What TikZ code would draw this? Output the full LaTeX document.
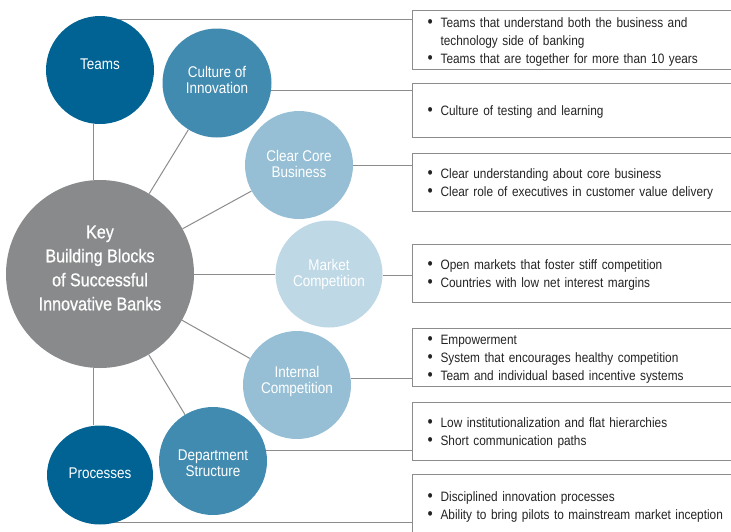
\documentclass[tikz,border=0pt]{standalone}
\usepackage{fontspec}
\usepackage{graphicx}
\setmainfont{Liberation Sans}[FakeStretch=0.87]
\newfontfamily\medfont{Liberation Sans}[FakeStretch=0.87,FakeBold=0.8]
\usetikzlibrary{shapes.geometric,backgrounds}
\definecolor{cDark}{RGB}{0,99,148}
\definecolor{cMid}{RGB}{66,139,176}
\definecolor{cLight}{RGB}{150,191,213}
\definecolor{cPale}{RGB}{190,216,230}
\definecolor{cGray}{RGB}{137,138,140}
\definecolor{lineC}{RGB}{140,140,140}
\definecolor{boxC}{RGB}{140,140,140}
\definecolor{textC}{RGB}{35,35,35}
\newcommand\bitem[1]{\makebox[13pt][l]{\raisebox{-0.3pt}{\scalebox{1.25}{\textbullet}}}#1}
\newcommand\bcont[1]{\hspace*{13pt}#1}
\newcommand\firstline{\rule{0pt}{13pt}}
\newcommand\boxfont{\fontsize{13.6}{18}\selectfont\hyphenpenalty=10000\relax}
\begin{document}
\begin{tikzpicture}[x=1pt,y=-1pt,
  bub/.style={circle, inner sep=0pt},
  bubtxt/.style={text=white, align=center, font=\fontsize{15.5}{16}\selectfont, inner sep=0pt},
  conn/.style={draw=lineC, line width=1pt},
  infobox/.style={draw=boxC, line width=1.2pt, rectangle, anchor=north west, inner xsep=15pt, inner ysep=0pt, align=left, text=textC, font=\boxfont, text width=320pt, minimum height=58pt}
]
\useasboundingbox (0,0) rectangle (731,531);
\clip (0,0) rectangle (731,531);
% boxes
\node[infobox, minimum height=59pt] (box1) at (412,10) {\firstline\bitem{Teams that understand both the business and}\\ \bcont{technology side of banking}\\ \bitem{Teams that are together for more than 10 years}};
\node[infobox, minimum height=54pt] (box2) at (412,83) {\firstline\bitem{Culture of testing and learning}};
\node[infobox] (box3) at (412,153) {\firstline\bitem{Clear understanding about core business}\\ \bitem{Clear role of executives in customer value delivery}};
\node[infobox] (box4) at (412,244) {\firstline\bitem{Open markets that foster stiff competition}\\ \bitem{Countries with low net interest margins}};
\node[infobox] (box5) at (412,328) {\firstline\bitem{Empowerment}\\ \bitem{System that encourages healthy competition}\\ \bitem{Team and individual based incentive systems}};
\node[infobox] (box6) at (412,402) {\firstline\bitem{Low institutionalization and flat hierarchies}\\ \bitem{Short communication paths}};
\node[infobox, minimum height=62pt] (box7) at (412,474) {\firstline\bitem{Disciplined innovation processes}\\ \bitem{Ability to bring pilots to mainstream market inception}};
% circles
\node[bub, fill=cGray, minimum size=188pt,
  label={[bubtxt, font=\medfont\fontsize{18.5}{24}\selectfont, yshift=6pt]center:Key\\Building Blocks\\of Successful\\Innovative Banks}] (center) at (100,274) {};
\node[bub, fill=cDark, minimum size=108pt, label={[bubtxt, yshift=6pt]center:Teams}] (teams) at (100,70) {};
\node[bub, fill=cMid, minimum size=109pt, label={[bubtxt, yshift=3pt]center:Culture of\\Innovation}] (culture) at (217,83) {};
\node[bub, fill=cLight, minimum size=108pt, label={[bubtxt, yshift=1pt]center:Clear Core\\Business}] (clear) at (299,165) {};
\node[bub, fill=cPale, minimum size=107pt, label={[bubtxt]center:Market\\Competition}] (market) at (329,274) {};
\node[bub, fill=cLight, minimum size=108pt, label={[bubtxt, yshift=4pt]center:Internal\\Competition}] (internal) at (297,385) {};
\node[bub, fill=cMid, minimum size=108pt, label={[bubtxt, yshift=-2pt]center:Department\\Structure}] (dept) at (213,461) {};
\node[bub, ellipse, fill=cDark, minimum width=106pt, minimum height=99pt, label={[bubtxt, yshift=2pt]center:Processes}] (proc) at (100,475) {};
% connectors behind circles
\coordinate (tTop) at (teams.70);
\coordinate (cR) at (culture.-8);
\coordinate (clR) at (clear.east);
\coordinate (mR) at (market.-2);
\coordinate (iR) at (internal.7);
\coordinate (dR) at (dept.11);
\coordinate (pB) at ([yshift=2pt]proc.south);
\begin{scope}[on background layer]
  \draw[conn] ([xshift=-7pt]teams.south) -- ([xshift=-7pt]center.north);
  \draw[conn] ([xshift=-7pt]center.south) -- ([xshift=-7pt]proc.north);
  \draw[conn] (center) -- (culture);
  \draw[conn] (center) -- (clear);
  \draw[conn] (center) -- (market);
  \draw[conn] (center) -- (internal);
  \draw[conn] (center) -- (dept);
  \draw[conn] (tTop) -- (tTop -| box1.west);
  \draw[conn] (cR) -- (cR -| box2.west);
  \draw[conn] (clR) -- (clR -| box3.west);
  \draw[conn] (mR) -- (mR -| box4.west);
  \draw[conn] (iR) -- (iR -| box5.west);
  \draw[conn] (dR) -- (dR -| box6.west);
  \draw[conn] (pB) -- (pB -| box7.west);
\end{scope}
\end{tikzpicture}
\end{document}
